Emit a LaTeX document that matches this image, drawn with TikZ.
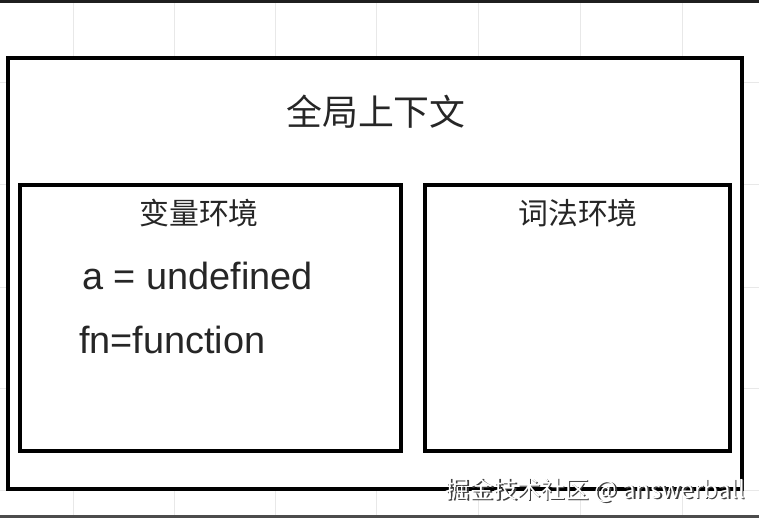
\documentclass[tikz,border=0pt]{standalone}
\usepackage{fontspec}
\setmainfont{Liberation Sans}
\newfontfamily\cjk{Noto Sans CJK SC}
\begin{document}
\begin{tikzpicture}[x=1bp,y=-1bp,
  box/.style={draw=black, line width=4bp, inner sep=0pt, fill=white},
  gridline/.style={draw=black!9, line width=1bp},
  title/.style={inner sep=0pt, text=black!85, font=\cjk\fontsize{36}{36}\selectfont},
  subtitle/.style={inner sep=0pt, text=black!85, font=\cjk\fontsize{30}{30}\selectfont},
  code/.style={inner sep=0pt, anchor=base west, text=black!85, font=\fontsize{38}{38}\selectfont},
  wmark/.style={inner sep=0pt, anchor=east, font=\cjk\fontsize{24}{24}\selectfont}]
\useasboundingbox (0,0) rectangle (759,518);
\fill[white] (0,0) rectangle (759,518);
% background grid
\foreach \gx in {73,174,275,376,478,580,682} \draw[gridline] (\gx,3) -- (\gx,515);
\foreach \gy in {83,185,287,388,490} \draw[gridline] (0,\gy) -- (759,\gy);
% screen edges
\fill[black!88] (0,0) rectangle (759,3);
\fill[black!70] (0,515) rectangle (759,518);
% boxes
\node[box, minimum width=734bp, minimum height=431bp] (outer) at (375,273.5) {};
\node[box, minimum width=381bp, minimum height=266bp] (var) at (210.5,318) {};
\node[box, minimum width=305bp, minimum height=266bp] (lex) at (577.5,318) {};
% texts
\node[title] (t0) at (376,112) {全局上下文};
\node[subtitle] (t1) at (199,213) {变量环境};
\node[subtitle] (t2) at (578,213) {词法环境};
\node[code] (c1) at (82,290) {a = undefined};
\node[code] (c2) at (79,353) {fn=function};
% watermark
\node[wmark, text=black!75] (wm0) at (746.5,491.5) {掘金技术社区 @ answerball};
\node[wmark, text=white] (wm) at (745,490) {掘金技术社区 @ answerball};
\end{tikzpicture}
\end{document}
